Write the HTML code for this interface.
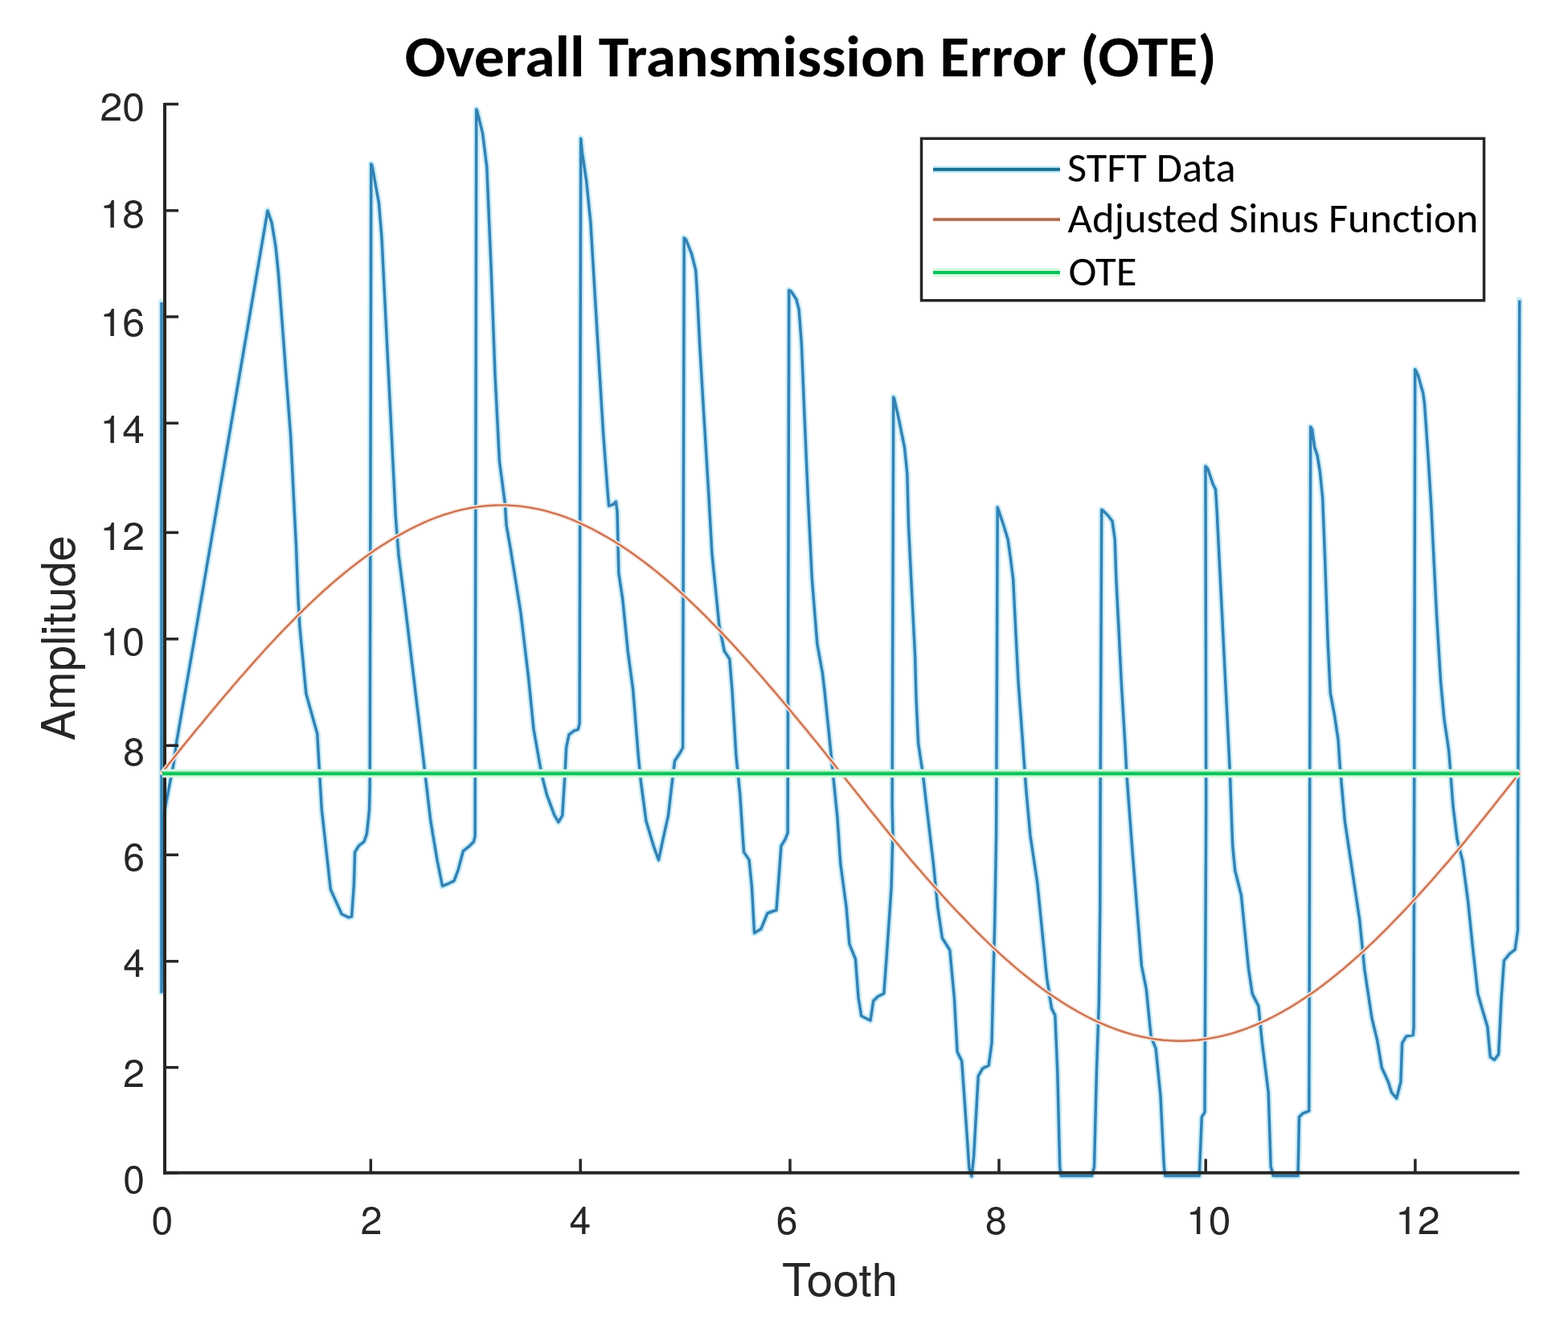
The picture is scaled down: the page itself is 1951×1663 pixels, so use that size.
<!DOCTYPE html>
<html><head><meta charset="utf-8"><title>Overall Transmission Error (OTE)</title><style>html,body{margin:0;padding:0;background:#fff;overflow:hidden}svg{display:block}</style></head><body>
<svg width="1951" height="1663" viewBox="0 0 1951 1663" style="font-variant-ligatures:none">
<rect width="1951" height="1663" fill="#fff"/>
<text x="503.5" y="94.8" font-family="Carlito, 'Liberation Sans', Arial, sans-serif" font-weight="bold" font-size="72.5" fill="#000" textLength="1010.3" lengthAdjust="spacingAndGlyphs">Overall Transmission Error (OTE)</text>
<polyline points="201.0,376.0 201.0,1234.0 203.5,1015.0 216.0,950.0 220.0,921.0 241.0,800.0 333.0,262.0 338.1,277.0 343.1,307.3 346.5,341.0 351.6,408.3 356.6,475.6 361.7,542.9 365.0,610.2 368.4,677.6 371.0,745.0 373.0,780.0 380.9,863.0 394.8,912.8 397.5,960.0 400.3,1007.0 411.4,1106.5 425.2,1137.0 433.5,1141.0 437.6,1140.0 440.4,1100.0 441.6,1060.0 446.5,1051.8 453.0,1046.9 456.4,1037.0 459.5,1008.0 460.2,980.0 461.8,204.0 463.0,206.0 471.4,252.5 474.9,294.4 480.1,399.0 487.1,538.5 492.3,643.2 496.0,690.0 505.0,761.0 514.7,842.0 524.4,923.5 529.3,965.7 535.8,1021.0 543.9,1069.6 550.4,1102.0 558.5,1098.8 565.0,1095.6 569.9,1082.6 576.4,1058.3 582.9,1053.4 589.4,1046.9 591.1,1040.0 592.7,136.0 593.5,137.4 600.4,165.3 605.7,207.2 610.9,329.3 616.1,468.8 621.4,573.4 628.3,625.7 630.1,653.6 634.8,680.0 647.8,761.0 657.5,842.0 664.0,907.0 673.8,962.5 680.3,988.4 690.0,1014.4 694.9,1022.5 699.7,1014.4 703.0,962.5 704.6,930.0 707.9,913.8 714.4,908.9 719.2,907.3 721.1,900.0 722.7,172.3 724.4,189.8 729.6,224.6 734.9,277.0 740.1,364.2 745.3,451.4 750.6,538.6 755.8,608.3 757.6,629.2 762.8,627.5 766.3,624.0 768.0,636.2 769.5,700.0 769.8,712.5 774.7,744.9 781.2,809.9 787.7,858.6 794.2,939.7 797.4,972.2 803.9,1020.9 813.6,1053.4 819.5,1069.6 825.0,1043.6 831.5,1014.4 836.4,972.2 839.6,946.2 846.1,936.5 849.6,930.0 851.2,296.0 853.5,297.9 860.4,315.3 865.7,336.3 867.4,364.2 870.9,433.9 876.1,521.1 881.4,608.3 886.0,690.0 891.6,744.9 894.8,777.4 901.3,809.9 907.8,819.6 911.0,858.6 915.9,939.7 920.8,988.4 924.0,1037.1 925.6,1059.9 932.1,1069.6 935.4,1102.1 938.6,1160.5 946.8,1155.6 954.9,1136.0 960.0,1134.0 966.0,1132.0 969.4,1087.0 972.0,1052.0 977.0,1044.0 980.1,1036.0 981.7,361.0 984.4,362.5 990.8,372.2 994.1,385.2 997.3,427.4 1000.6,508.6 1005.5,622.2 1010.3,719.6 1016.8,800.8 1023.3,836.5 1025.5,855.0 1030.8,905.9 1036.4,961.8 1042.0,1017.7 1045.7,1073.6 1053.2,1129.5 1056.9,1174.3 1064.4,1192.9 1068.1,1241.3 1071.8,1263.7 1083.0,1269.3 1086.7,1245.0 1092.3,1239.5 1099.8,1235.7 1103.5,1185.4 1109.1,1103.4 1110.9,1036.4 1110.1,1000.0 1111.7,494.0 1112.6,495.6 1119.1,524.8 1125.6,557.3 1128.8,589.7 1130.5,654.7 1133.7,719.6 1138.6,817.0 1140.0,870.0 1142.6,924.5 1148.2,961.8 1153.8,1010.3 1161.3,1073.6 1166.9,1129.5 1172.4,1166.8 1181.8,1181.7 1187.4,1241.3 1191.1,1308.4 1196.7,1319.6 1200.4,1371.8 1206.0,1453.8 1209.0,1463.0 1211.6,1438.9 1217.2,1338.3 1222.8,1328.9 1230.2,1325.2 1234.0,1297.3 1235.8,1222.7 1237.7,1148.2 1239.6,1036.4 1241.2,631.0 1242.7,635.3 1249.2,654.8 1254.1,671.0 1257.3,693.8 1260.6,719.7 1263.8,784.7 1267.1,849.6 1271.9,914.5 1275.2,961.6 1277.0,985.0 1281.9,1038.9 1290.7,1097.9 1296.6,1156.8 1302.5,1215.8 1308.4,1254.1 1312.8,1262.9 1315.8,1333.7 1318.7,1451.6 1320.2,1462.5 1358.5,1462.5 1361.5,1451.6 1364.4,1333.7 1367.4,1245.3 1368.8,1127.4 1369.1,1000.0 1370.7,634.0 1372.6,635.3 1379.1,641.8 1384.0,648.3 1387.2,671.0 1388.8,719.7 1392.1,784.7 1395.3,849.6 1400.2,930.8 1401.8,961.6 1403.5,985.0 1408.6,1053.7 1414.5,1127.4 1420.4,1201.0 1426.3,1230.5 1432.2,1289.5 1438.1,1304.2 1444.0,1363.1 1448.4,1451.6 1449.9,1462.5 1492.3,1462.5 1495.3,1389.4 1499.0,1383.3 1500.7,1000.0 1500.0,580.0 1502.7,582.9 1509.2,602.3 1512.5,608.8 1514.1,634.8 1517.3,699.7 1520.6,764.7 1523.8,829.6 1527.1,894.5 1530.3,959.5 1533.7,1052.0 1536.7,1082.7 1544.4,1113.4 1549.0,1159.4 1553.6,1205.4 1558.2,1236.1 1565.9,1251.4 1570.5,1297.4 1578.2,1358.8 1581.2,1450.8 1584.3,1462.5 1615.0,1462.5 1616.5,1389.4 1621.1,1384.8 1628.8,1381.8 1629.1,1266.7 1630.7,531.0 1632.6,534.2 1635.8,556.9 1639.1,566.6 1642.3,586.1 1645.6,618.6 1648.8,699.7 1652.1,797.1 1655.3,862.1 1660.2,888.0 1665.1,920.5 1667.0,950.0 1673.3,1021.3 1682.5,1082.7 1691.7,1144.0 1697.8,1205.4 1707.0,1266.7 1713.7,1294.2 1719.3,1328.1 1727.4,1345.7 1731.5,1358.8 1737.7,1366.2 1742.9,1345.7 1744.6,1297.7 1749.7,1289.1 1758.3,1287.4 1759.1,1277.1 1760.7,459.4 1764.1,466.0 1765.6,471.1 1770.6,488.7 1772.4,501.4 1773.8,521.2 1777.1,569.9 1780.8,629.3 1784.1,696.6 1787.5,763.9 1792.6,848.0 1797.0,895.0 1802.8,934.3 1808.0,1002.8 1813.1,1044.0 1820.0,1071.4 1826.8,1122.8 1832.0,1174.3 1838.8,1236.0 1845.7,1260.0 1850.8,1277.1 1854.3,1314.8 1859.4,1318.2 1864.6,1311.4 1868.0,1242.8 1871.4,1194.8 1878.3,1186.3 1885.1,1181.1 1888.5,1157.1 1888.6,1071.4 1890.7,373.5" fill="none" stroke="#c8ecf8" stroke-width="8" stroke-linejoin="round" stroke-linecap="round"/>
<polyline points="201.0,376.0 201.0,1234.0 203.5,1015.0 216.0,950.0 220.0,921.0 241.0,800.0 333.0,262.0 338.1,277.0 343.1,307.3 346.5,341.0 351.6,408.3 356.6,475.6 361.7,542.9 365.0,610.2 368.4,677.6 371.0,745.0 373.0,780.0 380.9,863.0 394.8,912.8 397.5,960.0 400.3,1007.0 411.4,1106.5 425.2,1137.0 433.5,1141.0 437.6,1140.0 440.4,1100.0 441.6,1060.0 446.5,1051.8 453.0,1046.9 456.4,1037.0 459.5,1008.0 460.2,980.0 461.8,204.0 463.0,206.0 471.4,252.5 474.9,294.4 480.1,399.0 487.1,538.5 492.3,643.2 496.0,690.0 505.0,761.0 514.7,842.0 524.4,923.5 529.3,965.7 535.8,1021.0 543.9,1069.6 550.4,1102.0 558.5,1098.8 565.0,1095.6 569.9,1082.6 576.4,1058.3 582.9,1053.4 589.4,1046.9 591.1,1040.0 592.7,136.0 593.5,137.4 600.4,165.3 605.7,207.2 610.9,329.3 616.1,468.8 621.4,573.4 628.3,625.7 630.1,653.6 634.8,680.0 647.8,761.0 657.5,842.0 664.0,907.0 673.8,962.5 680.3,988.4 690.0,1014.4 694.9,1022.5 699.7,1014.4 703.0,962.5 704.6,930.0 707.9,913.8 714.4,908.9 719.2,907.3 721.1,900.0 722.7,172.3 724.4,189.8 729.6,224.6 734.9,277.0 740.1,364.2 745.3,451.4 750.6,538.6 755.8,608.3 757.6,629.2 762.8,627.5 766.3,624.0 768.0,636.2 769.5,700.0 769.8,712.5 774.7,744.9 781.2,809.9 787.7,858.6 794.2,939.7 797.4,972.2 803.9,1020.9 813.6,1053.4 819.5,1069.6 825.0,1043.6 831.5,1014.4 836.4,972.2 839.6,946.2 846.1,936.5 849.6,930.0 851.2,296.0 853.5,297.9 860.4,315.3 865.7,336.3 867.4,364.2 870.9,433.9 876.1,521.1 881.4,608.3 886.0,690.0 891.6,744.9 894.8,777.4 901.3,809.9 907.8,819.6 911.0,858.6 915.9,939.7 920.8,988.4 924.0,1037.1 925.6,1059.9 932.1,1069.6 935.4,1102.1 938.6,1160.5 946.8,1155.6 954.9,1136.0 960.0,1134.0 966.0,1132.0 969.4,1087.0 972.0,1052.0 977.0,1044.0 980.1,1036.0 981.7,361.0 984.4,362.5 990.8,372.2 994.1,385.2 997.3,427.4 1000.6,508.6 1005.5,622.2 1010.3,719.6 1016.8,800.8 1023.3,836.5 1025.5,855.0 1030.8,905.9 1036.4,961.8 1042.0,1017.7 1045.7,1073.6 1053.2,1129.5 1056.9,1174.3 1064.4,1192.9 1068.1,1241.3 1071.8,1263.7 1083.0,1269.3 1086.7,1245.0 1092.3,1239.5 1099.8,1235.7 1103.5,1185.4 1109.1,1103.4 1110.9,1036.4 1110.1,1000.0 1111.7,494.0 1112.6,495.6 1119.1,524.8 1125.6,557.3 1128.8,589.7 1130.5,654.7 1133.7,719.6 1138.6,817.0 1140.0,870.0 1142.6,924.5 1148.2,961.8 1153.8,1010.3 1161.3,1073.6 1166.9,1129.5 1172.4,1166.8 1181.8,1181.7 1187.4,1241.3 1191.1,1308.4 1196.7,1319.6 1200.4,1371.8 1206.0,1453.8 1209.0,1463.0 1211.6,1438.9 1217.2,1338.3 1222.8,1328.9 1230.2,1325.2 1234.0,1297.3 1235.8,1222.7 1237.7,1148.2 1239.6,1036.4 1241.2,631.0 1242.7,635.3 1249.2,654.8 1254.1,671.0 1257.3,693.8 1260.6,719.7 1263.8,784.7 1267.1,849.6 1271.9,914.5 1275.2,961.6 1277.0,985.0 1281.9,1038.9 1290.7,1097.9 1296.6,1156.8 1302.5,1215.8 1308.4,1254.1 1312.8,1262.9 1315.8,1333.7 1318.7,1451.6 1320.2,1462.5 1358.5,1462.5 1361.5,1451.6 1364.4,1333.7 1367.4,1245.3 1368.8,1127.4 1369.1,1000.0 1370.7,634.0 1372.6,635.3 1379.1,641.8 1384.0,648.3 1387.2,671.0 1388.8,719.7 1392.1,784.7 1395.3,849.6 1400.2,930.8 1401.8,961.6 1403.5,985.0 1408.6,1053.7 1414.5,1127.4 1420.4,1201.0 1426.3,1230.5 1432.2,1289.5 1438.1,1304.2 1444.0,1363.1 1448.4,1451.6 1449.9,1462.5 1492.3,1462.5 1495.3,1389.4 1499.0,1383.3 1500.7,1000.0 1500.0,580.0 1502.7,582.9 1509.2,602.3 1512.5,608.8 1514.1,634.8 1517.3,699.7 1520.6,764.7 1523.8,829.6 1527.1,894.5 1530.3,959.5 1533.7,1052.0 1536.7,1082.7 1544.4,1113.4 1549.0,1159.4 1553.6,1205.4 1558.2,1236.1 1565.9,1251.4 1570.5,1297.4 1578.2,1358.8 1581.2,1450.8 1584.3,1462.5 1615.0,1462.5 1616.5,1389.4 1621.1,1384.8 1628.8,1381.8 1629.1,1266.7 1630.7,531.0 1632.6,534.2 1635.8,556.9 1639.1,566.6 1642.3,586.1 1645.6,618.6 1648.8,699.7 1652.1,797.1 1655.3,862.1 1660.2,888.0 1665.1,920.5 1667.0,950.0 1673.3,1021.3 1682.5,1082.7 1691.7,1144.0 1697.8,1205.4 1707.0,1266.7 1713.7,1294.2 1719.3,1328.1 1727.4,1345.7 1731.5,1358.8 1737.7,1366.2 1742.9,1345.7 1744.6,1297.7 1749.7,1289.1 1758.3,1287.4 1759.1,1277.1 1760.7,459.4 1764.1,466.0 1765.6,471.1 1770.6,488.7 1772.4,501.4 1773.8,521.2 1777.1,569.9 1780.8,629.3 1784.1,696.6 1787.5,763.9 1792.6,848.0 1797.0,895.0 1802.8,934.3 1808.0,1002.8 1813.1,1044.0 1820.0,1071.4 1826.8,1122.8 1832.0,1174.3 1838.8,1236.0 1845.7,1260.0 1850.8,1277.1 1854.3,1314.8 1859.4,1318.2 1864.6,1311.4 1868.0,1242.8 1871.4,1194.8 1878.3,1186.3 1885.1,1181.1 1888.5,1157.1 1888.6,1071.4 1890.7,373.5" fill="none" stroke="#3382b4" stroke-width="3.5" stroke-linejoin="round"/>
<g stroke="#262626" stroke-width="4" fill="none" stroke-linecap="butt">
<line x1="205.0" y1="128.0" x2="205.0" y2="1460.8"/>
<line x1="203.0" y1="1458.8" x2="1890.5" y2="1458.8"/>
<line x1="205.0" y1="129.5" x2="222" y2="129.5" stroke-width="3.5"/>
<line x1="205.0" y1="261.9" x2="222" y2="261.9" stroke-width="3.5"/>
<line x1="205.0" y1="394.0" x2="222" y2="394.0" stroke-width="3.5"/>
<line x1="205.0" y1="526.3" x2="222" y2="526.3" stroke-width="3.5"/>
<line x1="205.0" y1="662.4" x2="222" y2="662.4" stroke-width="3.5"/>
<line x1="205.0" y1="794.8" x2="222" y2="794.8" stroke-width="3.5"/>
<line x1="205.0" y1="927.3" x2="222" y2="927.3" stroke-width="3.5"/>
<line x1="205.0" y1="1063.3" x2="222" y2="1063.3" stroke-width="3.5"/>
<line x1="205.0" y1="1195.7" x2="222" y2="1195.7" stroke-width="3.5"/>
<line x1="205.0" y1="1327.7" x2="222" y2="1327.7" stroke-width="3.5"/>
<line x1="205.0" y1="1458.8" x2="222" y2="1458.8" stroke-width="3.5"/>
<line x1="461.3" y1="1458.8" x2="461.3" y2="1441.5" stroke-width="3.5"/>
<line x1="722.2" y1="1458.8" x2="722.2" y2="1441.5" stroke-width="3.5"/>
<line x1="983.0" y1="1458.8" x2="983.0" y2="1441.5" stroke-width="3.5"/>
<line x1="1243.0" y1="1458.8" x2="1243.0" y2="1441.5" stroke-width="3.5"/>
<line x1="1500.2" y1="1458.8" x2="1500.2" y2="1441.5" stroke-width="3.5"/>
<line x1="1760.9" y1="1458.8" x2="1760.9" y2="1441.5" stroke-width="3.5"/>
</g>
<polyline points="201.4,961.3 205.6,956.0 209.8,950.6 214.1,945.3 218.3,940.0 222.5,934.6 226.7,929.3 231.0,924.1 235.2,918.9 239.4,913.8 243.6,908.6 247.9,903.5 252.1,898.4 256.3,893.3 260.5,888.2 264.8,883.1 269.0,878.0 273.2,873.0 277.4,868.0 281.7,863.0 285.9,858.1 290.1,853.1 294.3,848.2 298.5,843.3 302.8,838.5 307.0,833.7 311.2,828.9 315.4,824.1 319.7,819.4 323.9,814.7 328.1,810.0 332.3,805.4 336.6,800.8 340.8,796.3 345.0,791.8 349.2,787.4 353.5,782.9 357.7,778.6 361.9,774.3 366.1,770.0 370.3,765.7 374.6,761.6 378.8,757.4 383.0,753.3 387.2,749.3 391.5,745.3 395.7,741.4 399.9,737.5 404.1,733.7 408.4,730.0 412.6,726.2 416.8,722.6 421.0,719.0 425.3,715.5 429.5,712.0 433.7,708.6 437.9,705.3 442.2,702.0 446.4,698.8 450.6,695.6 454.8,692.5 459.0,689.5 463.3,686.5 467.5,683.6 471.7,680.8 475.9,678.1 480.2,675.4 484.4,672.8 488.6,670.2 492.8,667.8 497.1,665.4 501.3,663.1 505.5,660.8 509.7,658.5 514.0,656.4 518.2,654.3 522.4,652.3 526.6,650.3 530.8,648.5 535.1,646.7 539.3,645.0 543.5,643.4 547.7,641.9 552.0,640.4 556.2,639.1 560.4,637.8 564.6,636.6 568.9,635.4 573.1,634.4 577.3,633.4 581.5,632.6 585.8,631.8 590.0,631.1 594.2,630.4 598.4,629.9 602.7,629.4 606.9,629.0 611.1,628.8 615.3,628.5 619.5,628.4 623.8,628.4 628.0,628.4 632.2,628.5 636.4,628.8 640.7,629.0 644.9,629.4 649.1,629.9 653.3,630.4 657.6,631.1 661.8,631.8 666.0,632.6 670.2,633.4 674.5,634.4 678.7,635.4 682.9,636.6 687.1,637.8 691.3,639.1 695.6,640.4 699.8,641.9 704.0,643.4 708.2,645.0 712.5,646.7 716.7,648.5 720.9,650.3 725.1,652.3 729.4,654.3 733.6,656.4 737.8,658.5 742.0,660.8 746.3,663.1 750.5,665.4 754.7,667.8 758.9,670.2 763.2,672.8 767.4,675.4 771.6,678.1 775.8,680.8 780.0,683.6 784.3,686.5 788.5,689.5 792.7,692.5 796.9,695.6 801.2,698.8 805.4,702.0 809.6,705.3 813.8,708.6 818.1,712.0 822.3,715.5 826.5,719.0 830.7,722.6 835.0,726.2 839.2,730.0 843.4,733.7 847.6,737.5 851.8,741.4 856.1,745.3 860.3,749.3 864.5,753.3 868.7,757.4 873.0,761.6 877.2,765.7 881.4,770.0 885.6,774.3 889.9,778.6 894.1,782.9 898.3,787.4 902.5,791.8 906.8,796.3 911.0,800.8 915.2,805.4 919.4,810.0 923.7,814.7 927.9,819.4 932.1,824.1 936.3,828.9 940.5,833.7 944.8,838.5 949.0,843.3 953.2,848.2 957.4,853.1 961.7,858.1 965.9,863.0 970.1,868.0 974.3,873.0 978.6,878.0 982.8,883.1 987.0,888.2 991.2,893.3 995.5,898.4 999.7,903.5 1003.9,908.6 1008.1,913.8 1012.4,918.9 1016.6,924.1 1020.8,929.3 1025.0,934.6 1029.2,940.0 1033.5,945.3 1037.7,950.6 1041.9,956.0 1046.1,961.3 1050.4,966.6 1054.6,972.0 1058.8,977.3 1063.0,982.6 1067.3,988.0 1071.5,993.3 1075.7,998.6 1079.9,1003.9 1084.2,1009.2 1088.4,1014.5 1092.6,1019.8 1096.8,1025.0 1101.0,1030.2 1105.3,1035.5 1109.5,1040.7 1113.7,1045.9 1117.9,1051.0 1122.2,1056.2 1126.4,1061.3 1130.6,1066.3 1134.8,1071.2 1139.1,1076.1 1143.3,1081.0 1147.5,1085.8 1151.7,1090.7 1156.0,1095.5 1160.2,1100.2 1164.4,1104.9 1168.6,1109.6 1172.9,1114.3 1177.1,1118.9 1181.3,1123.5 1185.5,1128.0 1189.7,1132.5 1194.0,1136.9 1198.2,1141.4 1202.4,1145.7 1206.6,1150.0 1210.9,1154.3 1215.1,1158.6 1219.3,1162.7 1223.5,1166.9 1227.8,1171.0 1232.0,1175.0 1236.2,1179.0 1240.4,1182.9 1244.7,1186.8 1248.9,1190.6 1253.1,1194.3 1257.3,1198.0 1261.5,1201.7 1265.8,1205.3 1270.0,1208.8 1274.2,1212.2 1278.4,1215.6 1282.7,1219.0 1286.9,1222.2 1291.1,1225.5 1295.3,1228.6 1299.6,1231.7 1303.8,1234.7 1308.0,1237.6 1312.2,1240.5 1316.5,1243.3 1320.7,1246.1 1324.9,1248.7 1329.1,1251.3 1333.4,1253.9 1337.6,1256.3 1341.8,1258.7 1346.0,1261.0 1350.2,1263.3 1354.5,1265.5 1358.7,1267.6 1362.9,1269.6 1367.1,1271.5 1371.4,1273.4 1375.6,1275.2 1379.8,1276.9 1384.0,1278.5 1388.3,1280.1 1392.5,1281.6 1396.7,1283.0 1400.9,1284.3 1405.2,1285.6 1409.4,1286.8 1413.6,1287.8 1417.8,1288.9 1422.0,1289.8 1426.3,1290.6 1430.5,1291.4 1434.7,1292.1 1438.9,1292.7 1443.2,1293.2 1447.4,1293.7 1451.6,1294.0 1455.8,1294.3 1460.1,1294.5 1464.3,1294.7 1468.5,1294.7 1472.7,1294.7 1477.0,1294.5 1481.2,1294.3 1485.4,1294.0 1489.6,1293.7 1493.9,1293.2 1498.1,1292.7 1502.3,1292.1 1506.5,1291.4 1510.7,1290.6 1515.0,1289.8 1519.2,1288.9 1523.4,1287.8 1527.6,1286.8 1531.9,1285.6 1536.1,1284.3 1540.3,1283.0 1544.5,1281.6 1548.8,1280.1 1553.0,1278.5 1557.2,1276.9 1561.4,1275.2 1565.7,1273.4 1569.9,1271.5 1574.1,1269.6 1578.3,1267.6 1582.5,1265.5 1586.8,1263.3 1591.0,1261.0 1595.2,1258.7 1599.4,1256.3 1603.7,1253.9 1607.9,1251.3 1612.1,1248.7 1616.3,1246.1 1620.6,1243.3 1624.8,1240.5 1629.0,1237.6 1633.2,1234.7 1637.5,1231.7 1641.7,1228.6 1645.9,1225.5 1650.1,1222.2 1654.4,1219.0 1658.6,1215.6 1662.8,1212.2 1667.0,1208.8 1671.2,1205.3 1675.5,1201.7 1679.7,1198.0 1683.9,1194.3 1688.1,1190.6 1692.4,1186.8 1696.6,1182.9 1700.8,1179.0 1705.0,1175.0 1709.3,1171.0 1713.5,1166.9 1717.7,1162.7 1721.9,1158.6 1726.2,1154.3 1730.4,1150.0 1734.6,1145.7 1738.8,1141.4 1743.1,1136.9 1747.3,1132.5 1751.5,1128.0 1755.7,1123.5 1759.9,1118.9 1764.2,1114.3 1768.4,1109.6 1772.6,1104.9 1776.8,1100.2 1781.1,1095.5 1785.3,1090.7 1789.5,1085.8 1793.7,1081.0 1798.0,1076.1 1802.2,1071.2 1806.4,1066.3 1810.6,1061.3 1814.9,1056.2 1819.1,1051.0 1823.3,1045.9 1827.5,1040.7 1831.7,1035.5 1836.0,1030.2 1840.2,1025.0 1844.4,1019.8 1848.6,1014.5 1852.9,1009.2 1857.1,1003.9 1861.3,998.6 1865.5,993.3 1869.8,988.0 1874.0,982.6 1878.2,977.3 1882.4,972.0 1886.7,966.6 1890.9,961.3" fill="none" stroke="#fae4da" stroke-width="5.5" stroke-linejoin="round" stroke-linecap="round"/>
<polyline points="201.4,961.3 205.6,956.0 209.8,950.6 214.1,945.3 218.3,940.0 222.5,934.6 226.7,929.3 231.0,924.1 235.2,918.9 239.4,913.8 243.6,908.6 247.9,903.5 252.1,898.4 256.3,893.3 260.5,888.2 264.8,883.1 269.0,878.0 273.2,873.0 277.4,868.0 281.7,863.0 285.9,858.1 290.1,853.1 294.3,848.2 298.5,843.3 302.8,838.5 307.0,833.7 311.2,828.9 315.4,824.1 319.7,819.4 323.9,814.7 328.1,810.0 332.3,805.4 336.6,800.8 340.8,796.3 345.0,791.8 349.2,787.4 353.5,782.9 357.7,778.6 361.9,774.3 366.1,770.0 370.3,765.7 374.6,761.6 378.8,757.4 383.0,753.3 387.2,749.3 391.5,745.3 395.7,741.4 399.9,737.5 404.1,733.7 408.4,730.0 412.6,726.2 416.8,722.6 421.0,719.0 425.3,715.5 429.5,712.0 433.7,708.6 437.9,705.3 442.2,702.0 446.4,698.8 450.6,695.6 454.8,692.5 459.0,689.5 463.3,686.5 467.5,683.6 471.7,680.8 475.9,678.1 480.2,675.4 484.4,672.8 488.6,670.2 492.8,667.8 497.1,665.4 501.3,663.1 505.5,660.8 509.7,658.5 514.0,656.4 518.2,654.3 522.4,652.3 526.6,650.3 530.8,648.5 535.1,646.7 539.3,645.0 543.5,643.4 547.7,641.9 552.0,640.4 556.2,639.1 560.4,637.8 564.6,636.6 568.9,635.4 573.1,634.4 577.3,633.4 581.5,632.6 585.8,631.8 590.0,631.1 594.2,630.4 598.4,629.9 602.7,629.4 606.9,629.0 611.1,628.8 615.3,628.5 619.5,628.4 623.8,628.4 628.0,628.4 632.2,628.5 636.4,628.8 640.7,629.0 644.9,629.4 649.1,629.9 653.3,630.4 657.6,631.1 661.8,631.8 666.0,632.6 670.2,633.4 674.5,634.4 678.7,635.4 682.9,636.6 687.1,637.8 691.3,639.1 695.6,640.4 699.8,641.9 704.0,643.4 708.2,645.0 712.5,646.7 716.7,648.5 720.9,650.3 725.1,652.3 729.4,654.3 733.6,656.4 737.8,658.5 742.0,660.8 746.3,663.1 750.5,665.4 754.7,667.8 758.9,670.2 763.2,672.8 767.4,675.4 771.6,678.1 775.8,680.8 780.0,683.6 784.3,686.5 788.5,689.5 792.7,692.5 796.9,695.6 801.2,698.8 805.4,702.0 809.6,705.3 813.8,708.6 818.1,712.0 822.3,715.5 826.5,719.0 830.7,722.6 835.0,726.2 839.2,730.0 843.4,733.7 847.6,737.5 851.8,741.4 856.1,745.3 860.3,749.3 864.5,753.3 868.7,757.4 873.0,761.6 877.2,765.7 881.4,770.0 885.6,774.3 889.9,778.6 894.1,782.9 898.3,787.4 902.5,791.8 906.8,796.3 911.0,800.8 915.2,805.4 919.4,810.0 923.7,814.7 927.9,819.4 932.1,824.1 936.3,828.9 940.5,833.7 944.8,838.5 949.0,843.3 953.2,848.2 957.4,853.1 961.7,858.1 965.9,863.0 970.1,868.0 974.3,873.0 978.6,878.0 982.8,883.1 987.0,888.2 991.2,893.3 995.5,898.4 999.7,903.5 1003.9,908.6 1008.1,913.8 1012.4,918.9 1016.6,924.1 1020.8,929.3 1025.0,934.6 1029.2,940.0 1033.5,945.3 1037.7,950.6 1041.9,956.0 1046.1,961.3 1050.4,966.6 1054.6,972.0 1058.8,977.3 1063.0,982.6 1067.3,988.0 1071.5,993.3 1075.7,998.6 1079.9,1003.9 1084.2,1009.2 1088.4,1014.5 1092.6,1019.8 1096.8,1025.0 1101.0,1030.2 1105.3,1035.5 1109.5,1040.7 1113.7,1045.9 1117.9,1051.0 1122.2,1056.2 1126.4,1061.3 1130.6,1066.3 1134.8,1071.2 1139.1,1076.1 1143.3,1081.0 1147.5,1085.8 1151.7,1090.7 1156.0,1095.5 1160.2,1100.2 1164.4,1104.9 1168.6,1109.6 1172.9,1114.3 1177.1,1118.9 1181.3,1123.5 1185.5,1128.0 1189.7,1132.5 1194.0,1136.9 1198.2,1141.4 1202.4,1145.7 1206.6,1150.0 1210.9,1154.3 1215.1,1158.6 1219.3,1162.7 1223.5,1166.9 1227.8,1171.0 1232.0,1175.0 1236.2,1179.0 1240.4,1182.9 1244.7,1186.8 1248.9,1190.6 1253.1,1194.3 1257.3,1198.0 1261.5,1201.7 1265.8,1205.3 1270.0,1208.8 1274.2,1212.2 1278.4,1215.6 1282.7,1219.0 1286.9,1222.2 1291.1,1225.5 1295.3,1228.6 1299.6,1231.7 1303.8,1234.7 1308.0,1237.6 1312.2,1240.5 1316.5,1243.3 1320.7,1246.1 1324.9,1248.7 1329.1,1251.3 1333.4,1253.9 1337.6,1256.3 1341.8,1258.7 1346.0,1261.0 1350.2,1263.3 1354.5,1265.5 1358.7,1267.6 1362.9,1269.6 1367.1,1271.5 1371.4,1273.4 1375.6,1275.2 1379.8,1276.9 1384.0,1278.5 1388.3,1280.1 1392.5,1281.6 1396.7,1283.0 1400.9,1284.3 1405.2,1285.6 1409.4,1286.8 1413.6,1287.8 1417.8,1288.9 1422.0,1289.8 1426.3,1290.6 1430.5,1291.4 1434.7,1292.1 1438.9,1292.7 1443.2,1293.2 1447.4,1293.7 1451.6,1294.0 1455.8,1294.3 1460.1,1294.5 1464.3,1294.7 1468.5,1294.7 1472.7,1294.7 1477.0,1294.5 1481.2,1294.3 1485.4,1294.0 1489.6,1293.7 1493.9,1293.2 1498.1,1292.7 1502.3,1292.1 1506.5,1291.4 1510.7,1290.6 1515.0,1289.8 1519.2,1288.9 1523.4,1287.8 1527.6,1286.8 1531.9,1285.6 1536.1,1284.3 1540.3,1283.0 1544.5,1281.6 1548.8,1280.1 1553.0,1278.5 1557.2,1276.9 1561.4,1275.2 1565.7,1273.4 1569.9,1271.5 1574.1,1269.6 1578.3,1267.6 1582.5,1265.5 1586.8,1263.3 1591.0,1261.0 1595.2,1258.7 1599.4,1256.3 1603.7,1253.9 1607.9,1251.3 1612.1,1248.7 1616.3,1246.1 1620.6,1243.3 1624.8,1240.5 1629.0,1237.6 1633.2,1234.7 1637.5,1231.7 1641.7,1228.6 1645.9,1225.5 1650.1,1222.2 1654.4,1219.0 1658.6,1215.6 1662.8,1212.2 1667.0,1208.8 1671.2,1205.3 1675.5,1201.7 1679.7,1198.0 1683.9,1194.3 1688.1,1190.6 1692.4,1186.8 1696.6,1182.9 1700.8,1179.0 1705.0,1175.0 1709.3,1171.0 1713.5,1166.9 1717.7,1162.7 1721.9,1158.6 1726.2,1154.3 1730.4,1150.0 1734.6,1145.7 1738.8,1141.4 1743.1,1136.9 1747.3,1132.5 1751.5,1128.0 1755.7,1123.5 1759.9,1118.9 1764.2,1114.3 1768.4,1109.6 1772.6,1104.9 1776.8,1100.2 1781.1,1095.5 1785.3,1090.7 1789.5,1085.8 1793.7,1081.0 1798.0,1076.1 1802.2,1071.2 1806.4,1066.3 1810.6,1061.3 1814.9,1056.2 1819.1,1051.0 1823.3,1045.9 1827.5,1040.7 1831.7,1035.5 1836.0,1030.2 1840.2,1025.0 1844.4,1019.8 1848.6,1014.5 1852.9,1009.2 1857.1,1003.9 1861.3,998.6 1865.5,993.3 1869.8,988.0 1874.0,982.6 1878.2,977.3 1882.4,972.0 1886.7,966.6 1890.9,961.3" fill="none" stroke="#cc7352" stroke-width="2.4" stroke-linejoin="round"/>
<line x1="202" y1="962" x2="1890" y2="962" stroke="#d2f8dd" stroke-width="10.5"/>
<line x1="202" y1="962" x2="1890" y2="962" stroke="#8fe8ab" stroke-width="6"/>
<line x1="202" y1="962.2" x2="1890" y2="962.2" stroke="#00c459" stroke-width="3.4"/>
<g font-family="'TeX Gyre Heros', 'Liberation Sans', Arial, Helvetica, sans-serif" font-size="48" fill="#262626">
<text x="180" y="149.5" text-anchor="end" textLength="55.5" lengthAdjust="spacingAndGlyphs">20</text>
<text x="180" y="283.0" text-anchor="end" textLength="55.5" lengthAdjust="spacingAndGlyphs">18</text>
<text x="180" y="418.0" text-anchor="end" textLength="55.5" lengthAdjust="spacingAndGlyphs">16</text>
<text x="180" y="550.6" text-anchor="end" textLength="55.5" lengthAdjust="spacingAndGlyphs">14</text>
<text x="180" y="683.8" text-anchor="end" textLength="55.5" lengthAdjust="spacingAndGlyphs">12</text>
<text x="180" y="815.0" text-anchor="end" textLength="55.5" lengthAdjust="spacingAndGlyphs">10</text>
<text x="180" y="951.6" text-anchor="end">8</text>
<text x="180" y="1082.9" text-anchor="end">6</text>
<text x="180" y="1214.6" text-anchor="end">4</text>
<text x="180" y="1351.6" text-anchor="end">2</text>
<text x="180" y="1483.5" text-anchor="end">0</text>
<text x="201.9" y="1534.5" text-anchor="middle">0</text>
<text x="462.0" y="1534.5" text-anchor="middle">2</text>
<text x="721.9" y="1534.5" text-anchor="middle">4</text>
<text x="979.2" y="1534.5" text-anchor="middle">6</text>
<text x="1239.4" y="1534.5" text-anchor="middle">8</text>
<text x="1503.8" y="1534.5" text-anchor="middle" textLength="55.5" lengthAdjust="spacingAndGlyphs">10</text>
<text x="1764.0" y="1534.5" text-anchor="middle" textLength="55.5" lengthAdjust="spacingAndGlyphs">12</text>
</g>
<text x="1045.2" y="1612" text-anchor="middle" font-family="'TeX Gyre Heros', 'Liberation Sans', Arial, Helvetica, sans-serif" font-size="56" fill="#262626" textLength="144.2" lengthAdjust="spacingAndGlyphs">Tooth</text>
<text transform="translate(92.5,793.8) rotate(-90)" text-anchor="middle" font-family="'TeX Gyre Heros', 'Liberation Sans', Arial, Helvetica, sans-serif" font-size="57.3" fill="#262626" textLength="255" lengthAdjust="spacingAndGlyphs">Amplitude</text>
<rect x="1146.5" y="172.3" width="700" height="201.4" fill="#fff" stroke="#262626" stroke-width="3.5"/>
<line x1="1161" y1="210.8" x2="1319" y2="210.8" stroke="#c8ecf8" stroke-width="9"/>
<line x1="1161" y1="210.8" x2="1319" y2="210.8" stroke="#17708f" stroke-width="4"/>
<line x1="1161" y1="273" x2="1319" y2="273" stroke="#fae4da" stroke-width="5.5"/>
<line x1="1161" y1="273" x2="1319" y2="273" stroke="#aa6a4a" stroke-width="3.5"/>
<line x1="1161" y1="339" x2="1319" y2="339" stroke="#d2f8dd" stroke-width="10.5"/>
<line x1="1161" y1="339" x2="1319" y2="339" stroke="#00c459" stroke-width="3.9"/>
<g font-family="Carlito, 'Liberation Sans', Arial, sans-serif" font-size="51.5" fill="#000">
<text x="1328" y="225.5" textLength="209.5" lengthAdjust="spacingAndGlyphs">STFT Data</text>
<text x="1328.5" y="288.5" textLength="510.8" lengthAdjust="spacingAndGlyphs">Adjusted Sinus Function</text>
<text x="1329.5" y="354.5" textLength="84.9" lengthAdjust="spacingAndGlyphs">OTE</text>
</g>
</svg>
</body></html>
